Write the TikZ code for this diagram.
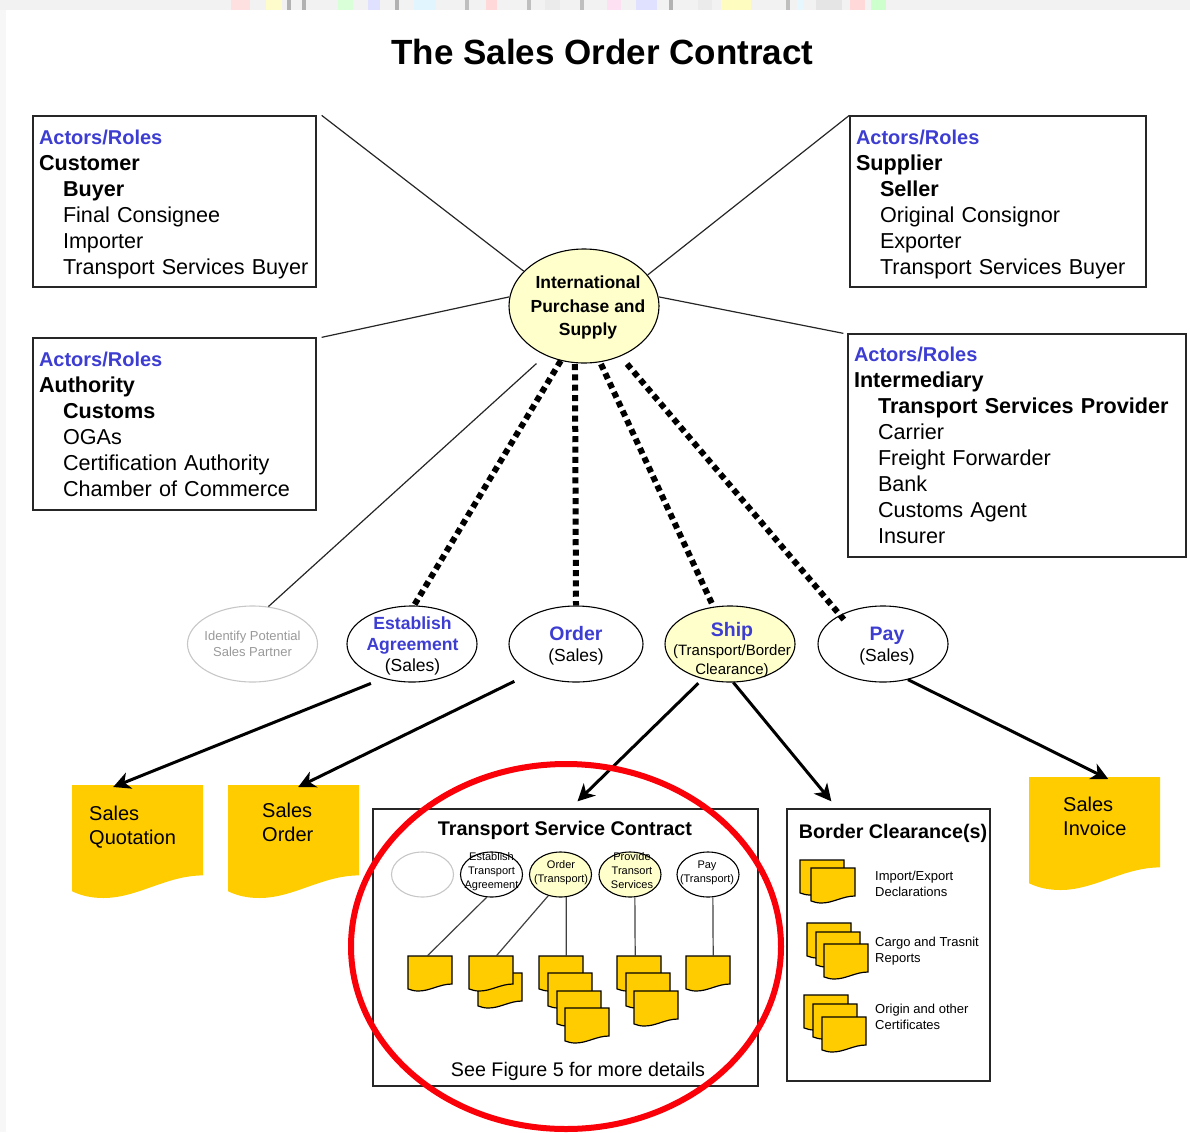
\documentclass[tikz,border=0pt]{standalone}
\usepackage{fontspec}
\setmainfont{Liberation Sans}
\usetikzlibrary{arrows.meta,shapes.geometric}

\definecolor{rolesblue}{HTML}{3D3DD2}
\definecolor{docgold}{HTML}{FFCC00}
\definecolor{paleyellow}{HTML}{FFFFCC}
\definecolor{ringred}{HTML}{FA0008}
\definecolor{fadegray}{HTML}{999999}

\newcommand{\sized}[2]{\fontsize{#1}{#2}\selectfont}
\newcommand{\rolehead}{{\sized{20}{26}\bfseries\color{rolesblue}Actors/Roles}}
\newcommand{\rolename}[2][19.5]{\textcolor{rolesblue}{\sized{#1}{19}\bfseries #2}}
% x offset, y offset, text
\newcommand{\ovaltext}[3][0pt]{\smash{\makebox[0pt]{\hspace*{#1}\raisebox{#2}{\begin{tabular}{@{}c@{}}#3\end{tabular}}}}}
% style, name, left, top, width, height
\newcommand{\docsheet}[6]{
  \begin{scope}[shift={(#3,#4)},x=#5pt,y=-#6pt]
    \path[#1] (0,0) -- (1,0) -- (1,.8) .. controls (.72,.8) and (.5,1) .. (.24,1)
       .. controls (.15,1) and (.07,.98) .. (0,.94) -- cycle;
  \end{scope}
  \node[anchor=north west,inner sep=0pt,minimum width=#5pt,minimum height=#6pt] (#2) at (#3,#4) {};
}

\tikzset{
  rolebox/.style={draw=black!85,rectangle,line width=1.3pt,align=left,inner sep=6pt,font=\sized{21.6}{26}},
  oval/.style={draw,ellipse,inner sep=0pt,line width=1.1pt,minimum width=130pt,minimum height=76pt,font=\sized{17.5}{21}},
  miniOval/.style={draw,ellipse,inner sep=0pt,line width=1.1pt,minimum width=62pt,minimum height=45pt,font=\sized{11}{14}},
  bigsheet/.style={fill=docgold},
  sheet/.style={fill=docgold,draw=black,line width=1.2pt},
  sheetlabel/.style={anchor=west,align=left,inner sep=0pt,font=\sized{20}{24}},
  smalllabel/.style={anchor=west,align=left,inner sep=0pt,font=\sized{13}{16}},
  groupbox/.style={draw=black!85,rectangle,line width=1.3pt,inner sep=0pt},
  thinlink/.style={draw=black!85,line width=1.2pt},
  dotlink/.style={draw=black,line width=6pt,dash pattern=on 6pt off 4.3pt},
  flow/.style={-{Stealth[length=17pt,width=17pt,inset=5pt]},draw=black,line width=3pt},
  minilink/.style={draw=black!75,line width=1.2pt}
}

\begin{document}
\begin{tikzpicture}[x=1pt,y=-1pt]
  \useasboundingbox (0,0) rectangle (1190,1132);
  \fill[black!5] (0,0) rectangle (1190,10);
  \fill[black!3] (0,10) rectangle (6,1132);
  \foreach \barx/\barw/\barcol in {231/19/red!12,266/16/yellow!20,287/4/black!30,302/4/black!30,338/15/green!15,368/12/blue!12,395/4/black!30,414/22/cyan!12,465/4/black!25,486/11/red!15,527/4/black!25,545/15/black!8,580/4/black!25,607/14/magenta!12,636/21/blue!12,669/4/black!30,698/14/black!8,721/30/yellow!25,786/4/black!25,797/6/cyan!10,816/26/black!10,850/15/red!15,871/15/green!20}
    \fill[\barcol] (\barx,0) rectangle ++(\barw,10);

  \node[inner sep=0pt,font=\sized{35}{40}\bfseries] (title) at (602.5,52) {The Sales Order Contract};

  \node[rolebox,minimum width=283pt,minimum height=171pt,text width=271pt] (custbox) at (174.5,201.5) {\rule{0pt}{20pt}\rolehead\\
    \textbf{Customer}\\
    \hspace*{24pt}\textbf{Buyer}\\
    \hspace*{24pt}Final Consignee\\
    \hspace*{24pt}Importer\\
    \hspace*{24pt}Transport Services Buyer};
  \node[rolebox,minimum width=283pt,minimum height=172pt,text width=271pt] (authbox) [below of=custbox,node distance=222.5pt] {\rolehead\\
    \textbf{Authority}\\
    \hspace*{24pt}\textbf{Customs}\\
    \hspace*{24pt}OGAs\\
    \hspace*{24pt}Certification Authority\\
    \hspace*{24pt}Chamber of Commerce};
  \node[rolebox,minimum width=296pt,minimum height=171pt,text width=284pt] (suppbox) at (998,201.5) {\rule{0pt}{20pt}\rolehead\\
    \textbf{Supplier}\\
    \hspace*{24pt}\textbf{Seller}\\
    \hspace*{24pt}Original Consignor\\
    \hspace*{24pt}Exporter\\
    \hspace*{24pt}Transport Services Buyer};
  \node[rolebox,minimum width=338pt,minimum height=223pt,text width=326pt] (intmbox) at (1017,445.5) {\rolehead\\
    \textbf{Intermediary}\\
    \hspace*{24pt}\textbf{Transport Services Provider}\\
    \hspace*{24pt}Carrier\\
    \hspace*{24pt}Freight Forwarder\\
    \hspace*{24pt}Bank\\
    \hspace*{24pt}Customs Agent\\
    \hspace*{24pt}Insurer};

  \node[oval,fill=paleyellow,minimum width=150pt,minimum height=114pt,font=\sized{17.5}{23.5}\bfseries] (intl) at (584,306)
    {\ovaltext[8pt]{-6pt}{International\\Purchase and\\Supply}};

  \node[oval,draw=black!22,minimum width=130pt,font=\sized{13}{16}] (identify) at (252.5,644) {\ovaltext{-4pt}{\color{fadegray}Identify Potential\\\color{fadegray}Sales Partner}};
  \node[oval] (estab) [right of=identify,node distance=159.5pt] {\ovaltext[1pt]{-7pt}{\rolename[17.6]{Establish}\\\rolename[17.6]{Agreement}\\(Sales)}};
  \node[oval,minimum width=134pt] (order) [right of=estab,node distance=164pt] {\ovaltext{-7pt}{\rolename{Order}\\(Sales)}};
  \node[oval,fill=paleyellow,font=\sized{15}{19}] (ship) [right of=order,node distance=154pt] {\ovaltext[4pt]{-11pt}{\rolename{Ship}\\(Transport/Border\\Clearance)}};
  \node[oval] (pay) [right of=ship,node distance=153pt] {\ovaltext[8pt]{-7pt}{\rolename{Pay}\\(Sales)}};

  \docsheet{bigsheet}{quotsheet}{72}{785}{131}{113}
  \docsheet{bigsheet}{ordsheet}{228}{785}{131}{113}
  \docsheet{bigsheet}{invsheet}{1029}{777}{131}{113}
  \node[sheetlabel] (quotlabel) at (89,827) {Sales\\Quotation};
  \node[sheetlabel] (ordlabel) at (262,822) {Sales\\Order};
  \node[sheetlabel] (invlabel) at (1063,816) {Sales\\Invoice};

  \node[groupbox,minimum width=385pt,minimum height=277pt] (tscbox) at (565.5,947.5) {};
  \node[groupbox,minimum width=203pt,minimum height=272pt] (bordbox) at (888.5,945) {};
  \node[inner sep=0pt,font=\sized{19.8}{24}\bfseries] (tsctitle) at (565,830.5) {Transport Service Contract};
  \node[inner sep=0pt,font=\sized{19.7}{24}\bfseries] (bordtitle) at (893,833) {Border Clearance(s)};

  \node[miniOval,draw=black!22] (tblank) at (422.5,874.5) {};
  \node[miniOval] (testab) [right of=tblank,node distance=69pt] {\ovaltext{0pt}{Establish\\Transport\\Agreement}};
  \node[miniOval,fill=paleyellow] (torder) [right of=testab,node distance=69pt] {\ovaltext[1pt]{-1pt}{Order\\(Transport)}};
  \node[miniOval,fill=paleyellow] (tprov) [right of=torder,node distance=69.5pt] {\ovaltext[4pt]{0pt}{Provide\\Transort\\Services}};
  \node[miniOval] (tpay) [right of=tprov,node distance=78pt] {\ovaltext[-2pt]{-1pt}{Pay\\(Transport)}};

  \docsheet{sheet}{ta}{408}{956}{44}{35}
  \docsheet{sheet}{tbb}{478}{973}{44}{35}
  \docsheet{sheet}{tb}{469}{956}{44}{35}
  \docsheet{sheet}{tc}{539}{956}{44}{35}
  \docsheet{sheet}{tcb}{548}{973}{44}{35}
  \docsheet{sheet}{tcc}{557}{991}{44}{35}
  \docsheet{sheet}{tcd}{565}{1008}{44}{35}
  \docsheet{sheet}{td}{617}{956}{44}{35}
  \docsheet{sheet}{tdb}{626}{973}{44}{35}
  \docsheet{sheet}{tdc}{634}{991}{44}{35}
  \docsheet{sheet}{te}{686}{956}{44}{35}

  \docsheet{sheet}{ba}{800}{860}{44}{35}
  \docsheet{sheet}{bab}{811}{868}{44}{35}
  \docsheet{sheet}{bc}{807}{923}{44}{35}
  \docsheet{sheet}{bcb}{816}{932}{44}{35}
  \docsheet{sheet}{bcc}{824}{944}{44}{35}
  \docsheet{sheet}{bd}{804}{995}{44}{35}
  \docsheet{sheet}{bdb}{813}{1004}{44}{35}
  \docsheet{sheet}{bdc}{822}{1017}{44}{35}
  \node[smalllabel] (blabela) at (875,883.5) {Import/Export\\Declarations};
  \node[smalllabel] (blabelb) at (875,951.5) {Cargo and Trasnit\\Reports};
  \node[smalllabel] (blabelc) at (875,1017) {Origin and other\\Certificates};

  \path
    ([xshift=5pt]custbox.north east) edge[thinlink] (intl.150)
    ([xshift=5pt]authbox.north east) edge[thinlink] (intl.173)
    (suppbox.north west) edge[thinlink] (intl.26)
    ([xshift=-4pt]intmbox.north west) edge[thinlink] (intl.7)
    (intl.232) edge[thinlink,shorten <=12pt] (identify.67)
    (intl.247.6) edge[dotlink] (estab.87)
    (intl.261) edge[dotlink,shorten <=1pt] (order.north)
    (intl.286) edge[dotlink,shorten <=2pt] (ship.114)
    (intl.306) edge[dotlink,shorten <=10pt,shorten >=-6pt] (pay.146)
    (estab.230) edge[flow,shorten <=13pt] ([xshift=-24.5pt,yshift=-2pt]quotsheet.north)
    (order.213) edge[flow,shorten <=19pt] ([xshift=4.5pt,yshift=-2pt]ordsheet.north)
    (ship.232.6) edge[flow,shorten <=6pt] ([xshift=12pt,yshift=7pt]tscbox.north)
    (ship.275) edge[flow] ([xshift=45pt,yshift=7pt]bordbox.north west)
    (pay.305) edge[flow] ([xshift=13.5pt,yshift=-2pt]invsheet.north)
    (testab.258) edge[minilink] ([xshift=-3pt]ta.north)
    (torder.240) edge[minilink] ([xshift=5pt]tb.north)
    (torder.284) edge[minilink] ([xshift=5pt]tc.north)
    (tprov.282) edge[minilink] ([xshift=-4pt]td.north)
    (tpay.282) edge[minilink] ([xshift=5pt]te.north)
    ;

  \node[draw=ringred,ellipse,line width=6pt,inner sep=0pt,minimum width=430pt,minimum height=365pt] (ring) at (566,946.5) {};
  \node[inner sep=0pt,font=\sized{19.7}{24}] (tscnote) at (578,1071.5) {See Figure 5 for more details};
\end{tikzpicture}
\end{document}
